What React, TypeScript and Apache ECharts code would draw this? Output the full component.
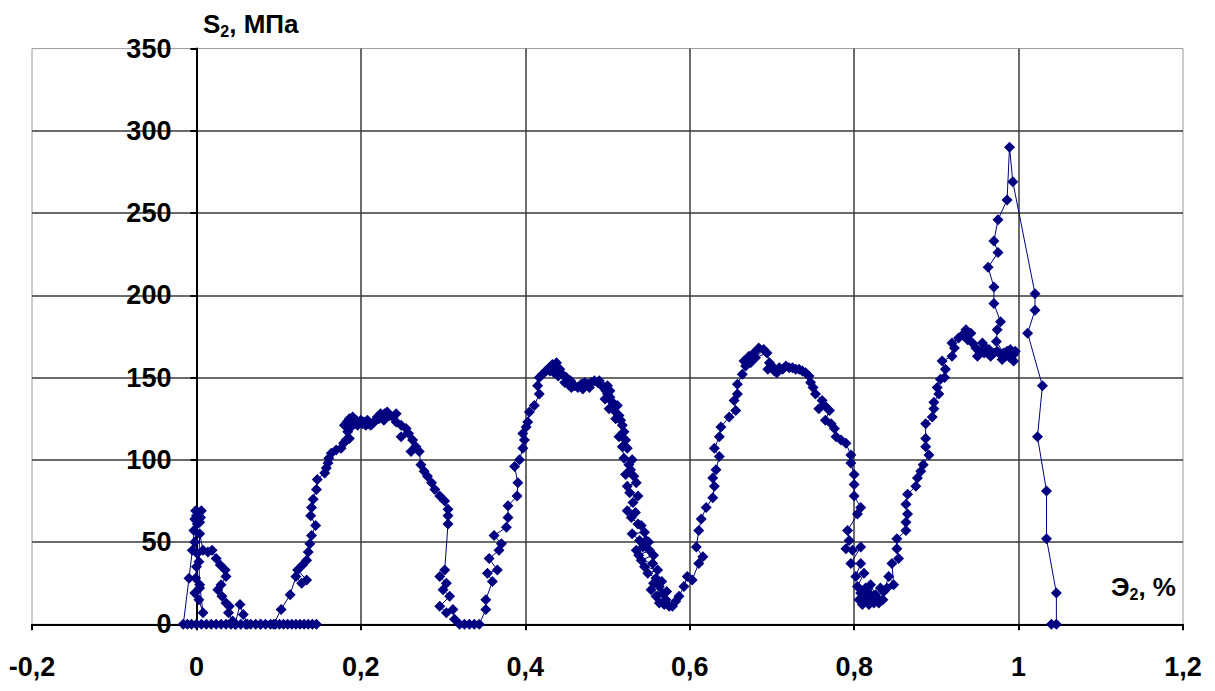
import React, { useEffect, useRef } from "react";
import * as echarts from "echarts";

type Pt = [number, number];

// Strain Э2 (%) vs stress S2 (MPa), recorded in loading order.
const startCluster: Pt[] = [
  [0.146, 0], [0.141, 0], [0.136, 0], [0.131, 0], [0.126, 0], [0.121, 0], [0.116, 0], [0.111, 0],
  [0.106, 0], [0.101, 0], [0.096, 0], [0.09, 0], [0.084, 0], [0.078, 0], [0.072, 0], [0.066, 0],
  [0.06, 0], [0.054, 0], [0.048, 0], [0.042, 0], [0.036, 0], [0.03, 0], [0.024, 0], [0.018, 0],
  [0.012, 0], [0.006, 0], [0.0, 0], [-0.006, 0], [-0.011, 0], [-0.016, 0],
  [-0.009, 28], [-0.005, 45], [-0.003, 57], [0.0, 63], [0.002, 67], [-0.001, 69], [0.003, 68],
  [0.006, 69], [-0.002, 64], [0.004, 62], [0.0, 66],
  [0.005, 65], [0.001, 61], [-0.002, 50], [0.001, 43], [0.0, 35], [-0.001, 28], [0.004, 22],
  [-0.002, 19], [0.003, 15], [0.008, 7], [0.004, 24], [0.003, 38], [0.004, 55], [0.008, 45],
  [0.014, 44], [0.019, 45], [0.024, 40], [0.029, 36], [0.035, 33], [0.036, 29], [0.03, 24],
  [0.026, 21], [0.031, 17], [0.036, 13], [0.04, 11], [0.039, 7], [0.044, 2], [0.047, 0],
  [0.053, 12], [0.057, 6], [0.062, 0], [0.078, 0], [0.094, 0],
];

const firstLoop: Pt[] = [
  [0.103, 9], [0.114, 18], [0.121, 29], [0.128, 25], [0.134, 27], [0.123, 33], [0.129, 36],
  [0.134, 39], [0.136, 44], [0.138, 49], [0.14, 54], [0.145, 60], [0.139, 66], [0.14, 71],
  [0.142, 76], [0.146, 82], [0.147, 88], [0.156, 92], [0.158, 95], [0.16, 98], [0.161, 101],
  [0.164, 104], [0.17, 106], [0.176, 107], [0.179, 110], [0.182, 112], [0.186, 113], [0.184, 117],
  [0.18, 121], [0.183, 123], [0.186, 125], [0.19, 126], [0.188, 120], [0.192, 122], [0.194, 124],
  [0.196, 121], [0.198, 123], [0.2, 124], [0.202, 122], [0.204, 123], [0.206, 121], [0.208, 124],
  [0.21, 122], [0.212, 121], [0.214, 122], [0.216, 123], [0.218, 124], [0.22, 126], [0.222, 125],
  [0.224, 128], [0.226, 127], [0.228, 124], [0.229, 128], [0.232, 129], [0.235, 127], [0.239, 126],
  [0.243, 128], [0.243, 123], [0.249, 121], [0.255, 119], [0.249, 114], [0.258, 116], [0.263, 112],
  [0.261, 105], [0.267, 108], [0.271, 105], [0.273, 97], [0.277, 93], [0.281, 90], [0.286, 86],
  [0.29, 82], [0.296, 78], [0.302, 75], [0.306, 70], [0.306, 66], [0.306, 61],
];

const secondLoop: Pt[] = [
  [0.302, 33], [0.296, 29], [0.304, 25], [0.3, 21], [0.308, 17], [0.296, 11], [0.304, 7],
  [0.312, 9], [0.314, 3], [0.32, 0], [0.326, 0], [0.332, 0], [0.338, 0], [0.344, 0], [0.352, 9],
  [0.352, 15], [0.36, 26], [0.354, 31], [0.366, 33], [0.356, 40], [0.368, 45], [0.371, 49],
  [0.362, 54], [0.377, 59], [0.379, 65], [0.379, 72], [0.39, 78], [0.391, 86], [0.387, 96],
  [0.393, 100], [0.397, 107], [0.399, 112], [0.397, 116], [0.401, 120], [0.403, 123], [0.405, 129],
  [0.411, 133], [0.417, 140], [0.415, 145], [0.417, 150], [0.421, 152], [0.425, 154], [0.429, 156],
  [0.43, 154], [0.433, 158], [0.438, 159], [0.437, 156], [0.442, 155], [0.435, 153], [0.44, 151],
  [0.445, 152], [0.45, 150], [0.448, 147], [0.455, 148], [0.452, 146], [0.456, 144], [0.46, 145],
  [0.464, 144], [0.47, 143], [0.468, 146], [0.472, 147], [0.476, 146], [0.478, 144], [0.48, 147],
  [0.484, 148], [0.488, 147], [0.49, 148], [0.492, 146], [0.495, 144], [0.5, 145], [0.498, 142],
  [0.503, 142], [0.5, 140], [0.497, 137], [0.503, 138], [0.506, 135], [0.512, 133], [0.502, 131],
  [0.508, 130], [0.51, 125], [0.516, 124], [0.514, 127], [0.518, 121], [0.514, 114], [0.52, 117],
  [0.522, 112], [0.524, 107], [0.518, 108], [0.52, 101], [0.53, 100], [0.526, 97], [0.522, 91],
  [0.528, 94], [0.532, 90], [0.535, 86], [0.524, 84], [0.527, 80], [0.537, 78], [0.531, 74],
  [0.524, 69], [0.534, 68], [0.529, 65], [0.537, 61], [0.541, 60], [0.545, 56], [0.53, 55],
  [0.539, 51], [0.55, 50], [0.547, 51], [0.535, 45], [0.543, 47], [0.538, 42], [0.551, 45],
  [0.556, 42], [0.541, 39], [0.555, 37], [0.545, 35], [0.561, 33], [0.549, 31], [0.559, 28],
  [0.556, 25], [0.553, 21], [0.566, 26], [0.563, 23], [0.559, 17], [0.572, 20], [0.567, 19],
  [0.563, 13], [0.569, 12], [0.571, 15], [0.575, 11], [0.579, 11], [0.583, 14],
];

const thirdLoop: Pt[] = [
  [0.587, 17], [0.593, 23], [0.597, 29], [0.603, 27], [0.611, 37], [0.616, 41], [0.608, 47],
  [0.611, 57], [0.614, 64], [0.62, 71], [0.628, 77], [0.63, 84], [0.628, 89], [0.632, 94],
  [0.636, 102], [0.63, 107], [0.636, 114], [0.638, 120], [0.648, 126], [0.656, 130], [0.654, 136],
  [0.658, 140], [0.658, 146], [0.664, 152], [0.668, 157], [0.666, 160], [0.672, 163], [0.678, 165],
  [0.684, 168], [0.69, 167], [0.674, 159], [0.68, 162], [0.694, 165], [0.697, 159], [0.695, 155],
  [0.7, 157], [0.703, 154], [0.706, 153], [0.709, 156], [0.713, 155], [0.717, 157], [0.721, 156],
  [0.725, 156], [0.729, 155], [0.733, 155], [0.737, 154], [0.741, 153], [0.745, 151], [0.747, 147],
  [0.75, 144], [0.753, 140], [0.761, 136], [0.757, 131], [0.764, 133], [0.77, 130], [0.765, 124],
  [0.772, 122], [0.776, 119], [0.778, 114], [0.784, 112], [0.79, 110], [0.796, 103], [0.796, 98],
  [0.8, 91], [0.8, 85], [0.8, 78], [0.808, 71], [0.804, 67], [0.792, 57], [0.794, 51], [0.79, 46],
  [0.798, 45], [0.808, 47], [0.796, 37], [0.808, 37], [0.802, 29], [0.812, 31], [0.804, 23],
  [0.808, 19], [0.814, 22], [0.806, 15], [0.81, 12], [0.812, 17], [0.818, 12], [0.816, 14],
  [0.818, 19], [0.824, 13], [0.822, 16], [0.82, 24], [0.826, 18], [0.83, 13], [0.828, 16],
  [0.835, 15], [0.832, 22], [0.84, 22], [0.836, 20],
];

const fourthLoop: Pt[] = [
  [0.842, 29], [0.848, 24], [0.846, 37], [0.854, 40], [0.852, 46], [0.852, 52], [0.863, 57],
  [0.863, 62], [0.865, 67], [0.863, 73], [0.865, 79], [0.875, 84], [0.877, 89], [0.881, 93],
  [0.884, 97], [0.891, 103], [0.887, 108], [0.887, 113], [0.887, 122], [0.895, 126], [0.897, 131],
  [0.897, 135], [0.903, 140], [0.901, 144], [0.905, 149], [0.91, 150], [0.911, 155], [0.907, 160],
  [0.919, 163], [0.922, 168], [0.919, 171], [0.927, 174], [0.932, 176], [0.936, 179], [0.942, 177],
  [0.938, 173], [0.944, 171], [0.948, 168], [0.95, 163], [0.952, 166], [0.956, 171], [0.958, 165],
  [0.96, 168], [0.962, 165], [0.964, 167], [0.966, 163], [0.97, 165], [0.974, 166], [0.978, 164],
  [0.98, 161], [0.982, 165], [0.986, 166], [0.988, 163], [0.99, 167], [0.996, 166], [0.994, 164],
  [0.994, 160], [0.99, 162], [0.984, 163],
];

const finalSpike: Pt[] = [
  [0.973, 172], [0.974, 179], [0.978, 184], [0.97, 195], [0.97, 205], [0.963, 217], [0.975, 226],
  [0.97, 233], [0.975, 246], [0.986, 258], [0.989, 290], [0.993, 269], [1.02, 201], [1.02, 191],
  [1.011, 177], [1.029, 145], [1.023, 114], [1.034, 81], [1.034, 52], [1.046, 19], [1.046, 0],
  [1.04, 0],
];

const strainTicks = { min: -0.2, max: 1.2, step: 0.2 };
const stressTicks = { min: 0, max: 350, step: 50 };

const NAVY = "#000080";
const FONT = "'Liberation Sans', Arial, sans-serif";

const GRID_LEFT = 32;
const GRID_RIGHT = 32;
const CHART_W = 1215;

const fmtComma = (v: number) => String(Number(v.toFixed(2))).replace(".", ",");

export default function App() {
  const ref = useRef<HTMLDivElement>(null);

  useEffect(() => {
    if (!ref.current) return;
    const chart = echarts.init(ref.current, undefined, { renderer: "svg" });
    const points = [
      ...startCluster,
      ...firstLoop,
      ...secondLoop,
      ...thirdLoop,
      ...fourthLoop,
      ...finalSpike,
    ];
    // shift the stress axis (line, ticks and labels) onto strain = 0
    const plotW = CHART_W - GRID_LEFT - GRID_RIGHT;
    const zeroShift =
      (plotW * (0 - strainTicks.min)) / (strainTicks.max - strainTicks.min);

    const nameRich = {
      a: { fontFamily: FONT, fontWeight: "bold", fontSize: 26, color: "#000", lineHeight: 30 },
      s: {
        fontFamily: FONT,
        fontWeight: "bold",
        fontSize: 16,
        color: "#000",
        lineHeight: 15,
        verticalAlign: "bottom",
      },
    };
    chart.setOption({
      animation: false,
      backgroundColor: "#fff",
      title: [
        { text: "{a|S}{s|2}{a|, МПа}", left: 203, top: 9, padding: 0, textStyle: { rich: nameRich } },
        { text: "{a|Э}{s|2}{a|, %}", left: 1111, top: 572, padding: 0, textStyle: { rich: nameRich } },
      ],
      grid: {
        left: GRID_LEFT,
        right: GRID_RIGHT,
        top: 48.6,
        bottom: 66.7,
        containLabel: false,
        outerBoundsMode: "none",
        show: true,
        borderColor: "#9a9a9a",
        borderWidth: 1,
        backgroundColor: "#fff",
      },
      xAxis: {
        type: "value",
        min: strainTicks.min,
        max: strainTicks.max,
        interval: strainTicks.step,
        axisLine: { show: true, onZero: true, lineStyle: { color: "#000", width: 2 } },
        axisTick: { show: true, inside: false, length: 6, lineStyle: { color: "#000", width: 2 } },
        axisLabel: {
          show: true,
          margin: 29,
          showMinLabel: true,
          showMaxLabel: true,
          formatter: fmtComma,
          fontFamily: FONT,
          fontWeight: "bold",
          fontSize: 27,
          color: "#000",
        },
        splitLine: {
          show: true,
          showMinLine: false,
          showMaxLine: false,
          lineStyle: { color: "#3a3a3a", width: 1.5 },
        },
      },
      yAxis: {
        type: "value",
        position: "left",
        offset: -zeroShift,
        min: stressTicks.min,
        max: stressTicks.max,
        interval: stressTicks.step,
        axisLine: { show: true, onZero: false, lineStyle: { color: "#000", width: 2 } },
        axisTick: { show: true, inside: false, length: 6, lineStyle: { color: "#000", width: 2 } },
        axisLabel: {
          show: true,
          margin: 25,
          showMinLabel: true,
          showMaxLabel: true,
          formatter: fmtComma,
          fontFamily: FONT,
          fontWeight: "bold",
          fontSize: 27,
          color: "#000",
        },
        splitLine: {
          show: true,
          showMinLine: false,
          showMaxLine: false,
          lineStyle: { color: "#3a3a3a", width: 1.5 },
        },
      },
      series: [
        {
          type: "line",
          data: points,
          symbol: "diamond",
          symbolSize: 11,
          showSymbol: true,
          showAllSymbol: true,
          smooth: false,
          lineStyle: { color: NAVY, width: 1 },
          itemStyle: { color: NAVY },
          z: 3,
        },
      ],
    });
    return () => chart.dispose();
  }, []);

  return (
    <div
      ref={ref}
      style={{ position: "fixed", left: 0, top: 0, width: CHART_W, height: 691, background: "#fff" }}
    />
  );
}
